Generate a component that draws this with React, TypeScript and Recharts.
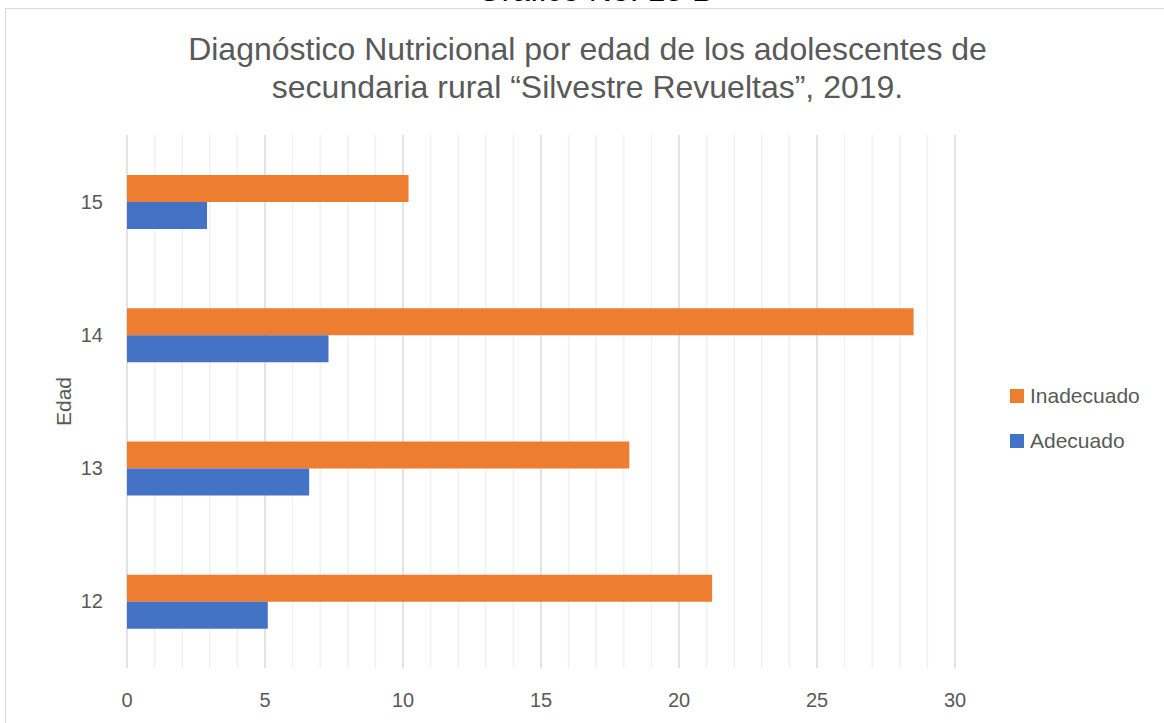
import React from 'react';
import { BarChart, Bar, XAxis, YAxis, CartesianGrid, Legend } from 'recharts';

const ages = ['15', '14', '13', '12'];
const inadecuado = [10.2, 28.5, 18.2, 21.2];
const adecuado = [2.9, 7.3, 6.6, 5.1];
const majorTicks = [0, 5, 10, 15, 20, 25, 30];
const minorTicks = [1, 2, 3, 4, 6, 7, 8, 9, 11, 12, 13, 14, 16, 17, 18, 19, 21, 22, 23, 24, 26, 27, 28, 29];

const data = ages.map((edad, i) => ({
  edad,
  Inadecuado: inadecuado[i],
  Adecuado: adecuado[i],
}));

const font = '"Liberation Sans", Arial, sans-serif';
const grey = '#595959';

const renderLegend = (props: any) => {
  const payload = [...(props.payload || [])].sort((a: any, b: any) => (a.value === 'Inadecuado' ? -1 : b.value === 'Inadecuado' ? 1 : 0));
  return (
    <div>
      {payload.map((entry: any) => (
        <div
          key={entry.value}
          style={{ display: 'flex', alignItems: 'center', height: 45, fontFamily: font, fontSize: 21, color: grey }}
        >
          <span style={{ width: 14, height: 14, background: entry.color, display: 'inline-block', marginRight: 6 }} />
          {entry.value}
        </div>
      ))}
    </div>
  );
};

// minor gridlines placed with the x axis scale
const minorGrid = (args: any) => {
  const { xAxis, offset } = args;
  if (xAxis && typeof xAxis.scale === 'function') {
    return minorTicks.map((v) => xAxis.scale(v));
  }
  return minorTicks.map((v) => offset.left + (v / 30) * offset.width);
};

const App: React.FC = () => {
  return (
    <div style={{ position: 'absolute', left: 0, top: 0, width: 1164, height: 723, overflow: 'hidden', background: '#fff' }}>
      {/* page caption, cut off at the top */}
      <div
        style={{
          position: 'absolute', left: 0, width: 1190, top: -26, textAlign: 'center',
          fontFamily: font, fontSize: 32, lineHeight: '32px', color: '#000',
        }}
      >
        Gráfico No. 15 B
      </div>

      {/* chart frame */}
      <div style={{ position: 'absolute', left: 5, top: 8, width: 1180, height: 740, border: '1.5px solid #d9d9d9' }} />

      {/* Title */}
      <div
        style={{
          position: 'absolute', left: 0, width: 1175, top: 30, textAlign: 'center',
          fontFamily: font, fontSize: 32, lineHeight: '38px', color: grey,
        }}
      >
        Diagnóstico Nutricional por edad de los adolescentes de
        <br />
        secundaria rural “Silvestre Revueltas”, 2019.
      </div>

      <div style={{ position: 'absolute', left: 0, top: 0 }}>
        <BarChart
          width={1164}
          height={723}
          data={data}
          layout="vertical"
          margin={{ top: 135, right: 209, bottom: 0, left: 67 }}
          barCategoryGap="30%"
          barGap={0}
        >
          <CartesianGrid
            horizontal={false}
            stroke="#f0f0f0"
            strokeWidth={1.5}
            verticalCoordinatesGenerator={minorGrid}
          />
          <CartesianGrid horizontal={false} stroke="#d9d9d9" strokeWidth={1.5} />
          <XAxis
            type="number"
            domain={[0, 30]}
            ticks={majorTicks}
            axisLine={false}
            tickLine={false}
            tickSize={0}
            tickMargin={25}
            height={55}
            tick={{ fontFamily: font, fontSize: 20, fill: grey }}
          />
          <YAxis
            type="category"
            dataKey="edad"
            axisLine={false}
            tickLine={false}
            tickSize={0}
            tickMargin={24}
            width={60}
            tick={{ fontFamily: font, fontSize: 20, fill: grey }}
            label={{ value: 'Edad', angle: -90, position: 'insideLeft', offset: 0, dx: -3, style: { fontFamily: font, fontSize: 21, fill: grey, textAnchor: 'middle' } }}
          />
          <Bar dataKey="Inadecuado" fill="#ED7D31" isAnimationActive={false} />
          <Bar dataKey="Adecuado" fill="#4472C4" isAnimationActive={false} />
          <Legend
            layout="vertical"
            align="center"
            verticalAlign="middle"
            content={renderLegend}
            wrapperStyle={{ left: 1010, top: 373, width: 150 }}
          />
        </BarChart>
      </div>
    </div>
  );
};

export default App;
